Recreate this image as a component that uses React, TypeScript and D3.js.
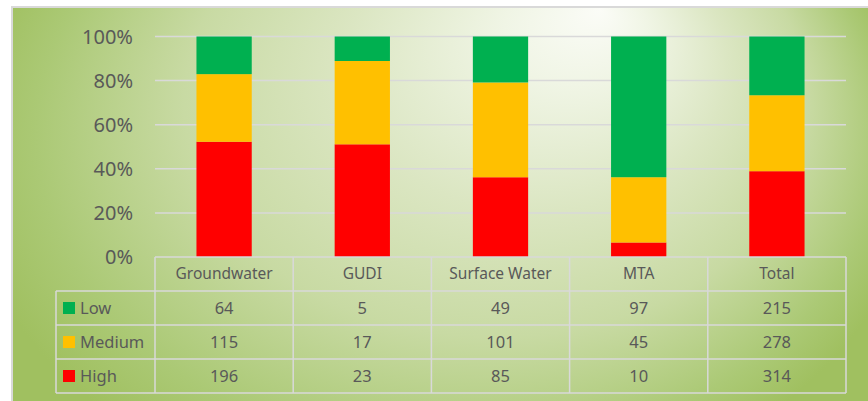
import React from 'react';
import * as d3 from 'd3';

const width = 868;
const height = 401;
const margin = { top: 36.5, left: 155, right: 22, axisBottom: 257 };
const rowH = 34;

const categories = ['Groundwater', 'GUDI', 'Surface Water', 'MTA', 'Total'];
const seriesNames = ['Low', 'Medium', 'High'];
const lowValues = [64, 5, 49, 97, 215];
const mediumValues = [115, 17, 101, 45, 278];
const highValues = [196, 23, 85, 10, 314];
const colors = ['#00b050', '#ffc000', '#ff0000'];
const yTicks = [0, 0.2, 0.4, 0.6, 0.8, 1];

const font = '"Noto Sans", "Open Sans", sans-serif';
const textColor = '#595959';
const lineColor = '#d9d9d9';

export default function App() {
  const x = d3
    .scaleBand()
    .domain(categories)
    .range([margin.left, width - margin.right])
    .paddingInner(0.6)
    .paddingOuter(0.3);
  const step = x.step();
  const colLeft = (c: string) => (x(c) as number) - x.paddingOuter() * step;

  const y = d3.scaleLinear().domain([0, 1]).range([margin.axisBottom, margin.top]);

  const values = [lowValues, mediumValues, highValues];
  // shares per category, stacked from the bottom: High, Medium, Low
  const rows = categories.map((c, i) => {
    const total = lowValues[i] + mediumValues[i] + highValues[i];
    return { cat: c, High: highValues[i] / total, Medium: mediumValues[i] / total, Low: lowValues[i] / total };
  });
  const stack = d3.stack<any>().keys(['High', 'Medium', 'Low'])(rows);
  const colorOf = (k: string) => colors[seriesNames.indexOf(k)];

  const tableLeft = 56;
  const tableRight = width - margin.right;
  const headerTop = margin.axisBottom;
  const bodyTop = headerTop + rowH;

  return (
    <svg width={width} height={height} style={{ position: 'absolute', left: 0, top: 0 }}>
      <defs>
        <radialGradient
          id="bg"
          cx="440"
          cy="200"
          r="480"
          fx="600"
          fy="10"
          gradientUnits="userSpaceOnUse"
          gradientTransform="translate(0,2.5) scale(1,0.75)"
        >
          <stop offset="0" stopColor="#fbfcf7" />
          <stop offset="0.15" stopColor="#f0f5e5" />
          <stop offset="0.4" stopColor="#dbe6c2" />
          <stop offset="0.65" stopColor="#c8daa3" />
          <stop offset="0.88" stopColor="#abc975" />
          <stop offset="1" stopColor="#a0c060" />
        </radialGradient>
      </defs>
      <rect x={0} y={0} width={width} height={height} fill="#ffffff" />
      <rect x={12} y={7} width={width} height={height} fill="url(#bg)" stroke={lineColor} strokeWidth={2} />

      {yTicks.map(t => (
        <g key={t}>
          {t > 0 && (
            <line x1={margin.left} x2={tableRight} y1={y(t)} y2={y(t)} stroke={lineColor} strokeWidth={1.5} />
          )}
          <text x={133} y={y(t)} dy="0.35em" textAnchor="end" fontFamily={font} fontSize={20} fill={textColor}>
            {d3.format('.0%')(t)}
          </text>
        </g>
      ))}

      {stack.map(layer =>
        layer.map((d, i) => (
          <rect
            key={layer.key + i}
            x={x(categories[i])}
            y={y(d[1])}
            width={x.bandwidth()}
            height={y(d[0]) - y(d[1])}
            fill={colorOf(layer.key)}
          />
        ))
      )}

      {/* data table */}
      <g fill="none" stroke={lineColor} strokeWidth={1.5}>
        <line x1={margin.left} x2={tableRight} y1={headerTop} y2={headerTop} />
        {seriesNames.map((s, j) => (
          <line key={s} x1={tableLeft} x2={tableRight} y1={bodyTop + j * rowH} y2={bodyTop + j * rowH} />
        ))}
        <line x1={tableLeft} x2={tableRight} y1={bodyTop + 3 * rowH} y2={bodyTop + 3 * rowH} />
        <line x1={tableLeft} x2={tableLeft} y1={bodyTop} y2={bodyTop + 3 * rowH} />
        {categories.map(c => (
          <line key={c} x1={colLeft(c)} x2={colLeft(c)} y1={headerTop} y2={bodyTop + 3 * rowH} />
        ))}
        <line x1={tableRight} x2={tableRight} y1={headerTop} y2={bodyTop + 3 * rowH} />
      </g>
      {categories.map(c => (
        <text
          key={c}
          x={(x(c) as number) + x.bandwidth() / 2}
          y={headerTop + rowH / 2}
          dy="0.35em"
          textAnchor="middle"
          fontFamily={font}
          fontSize={15.5}
          fill={textColor}
        >
          {c}
        </text>
      ))}
      {seriesNames.map((s, j) => (
        <g key={s}>
          <rect x={63} y={bodyTop + j * rowH + rowH / 2 - 6} width={12} height={12} fill={colors[j]} />
          <text x={80} y={bodyTop + j * rowH + rowH / 2} dy="0.35em" fontFamily={font} fontSize={16.5} fill={textColor}>
            {s}
          </text>
          {values[j].map((v, i) => (
            <text
              key={i}
              x={(x(categories[i]) as number) + x.bandwidth() / 2}
              y={bodyTop + j * rowH + rowH / 2}
              dy="0.35em"
              textAnchor="middle"
              fontFamily={font}
              fontSize={16.5}
              fill={textColor}
            >
              {v}
            </text>
          ))}
        </g>
      ))}
    </svg>
  );
}
